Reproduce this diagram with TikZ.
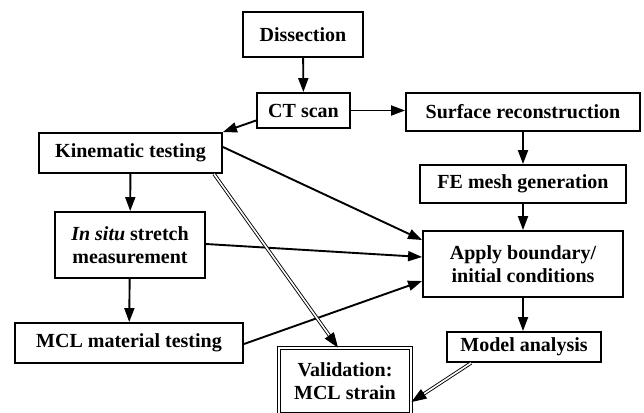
\documentclass[tikz,border=0pt]{standalone}
\usepackage{fontspec}
\setmainfont{Liberation Serif}
\usepackage{tikz}
\usetikzlibrary{arrows.meta}

\begin{document}
\begin{tikzpicture}[
    x=1pt, y=-1pt,
    box/.style={rectangle, draw, line width=1.9pt, inner sep=0pt, align=center,
        font=\fontsize{20}{23}\selectfont\bfseries},
    arrow/.style={-{Triangle[length=14pt, width=10pt]}, line width=1.9pt},
    dblarrow/.style={-{Triangle[length=15pt, width=11pt]}, line width=0.9pt,
        double, double distance=1.6pt}
]
    \useasboundingbox (0,0) rectangle (644,412);

    % Nodes
    \node[box, minimum width=120, minimum height=45] (dissect) at (303,34.5) {Dissection};
    \node[box, minimum width=93, minimum height=35] (ct) at (303.5,110.5) {CT scan};
    \node[box, minimum width=234, minimum height=38] (surf) at (523,112) {Surface reconstruction};
    \node[box, minimum width=183, minimum height=40] (kin) at (130.5,153) {Kinematic testing};
    \node[box, minimum width=206, minimum height=38] (fe) at (523,184) {FE mesh generation};
    \node[box, minimum width=150, minimum height=66] (insitu) at (130,245) {\textit{In situ} stretch\\measurement};
    \node[box, minimum width=200, minimum height=66] (apply) at (523,264) {Apply boundary/\\initial conditions};
    \node[box, minimum width=228, minimum height=40] (mcl) at (129,343) {MCL material testing};
    \node[box, minimum width=154, minimum height=30] (model) at (524,347) {Model analysis};
    \node[box, line width=0.9pt, double, double distance=1.6pt,
        minimum width=132, minimum height=66] (valid) at (345,381) {Validation:\\MCL strain};

    % Arrows
    \draw[arrow] (dissect) -- (ct);
    \draw[arrow] (ct.east) -- (ct.east -| surf.west);
    \draw[arrow] ([yshift=-10pt]ct.west) -- (kin.north east);
    \draw[arrow] (surf) -- (fe);
    \draw[arrow] (fe) -- (apply);
    \draw[arrow] (apply) -- (apply |- model.north);
    \draw[arrow] (kin) -- (insitu);
    \draw[arrow] (insitu) -- (mcl);
    \draw[arrow] ([yshift=6pt]kin.east) -- ([yshift=24pt]apply.west);
    \draw[arrow] ([yshift=1pt]insitu.east) -- ([yshift=7pt]apply.west);
    \draw[arrow] ([yshift=-1pt]mcl.east) -- ([yshift=-17pt]apply.west);
    \draw[dblarrow] ([xshift=-9pt]kin.south east) -- ([xshift=-7pt]valid.north);
    \draw[dblarrow] ([xshift=25pt]model.south west) -- ([yshift=-21pt]valid.east);
\end{tikzpicture}
\end{document}
